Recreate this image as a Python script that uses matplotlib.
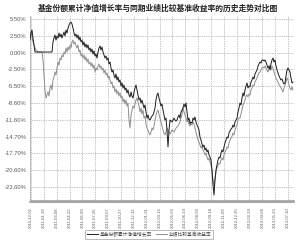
import numpy as np
import matplotlib
matplotlib.use("Agg")
import matplotlib.pyplot as plt
from matplotlib.lines import Line2D

plt.rcParams['font.family'] = ['Liberation Sans', 'Noto Sans CJK SC', 'DejaVu Sans']

title = "基金份额累计净值增长率与同期业绩比较基准收益率的历史走势对比图"
series_names = ["基金份额累计净值增长率", "业绩比较基准收益率"]

fund = [1.86, 3.07, 3.59, 2.21, 1.00,
        -0.22, -0.22, -0.22, -0.22, -0.22, -0.22, -0.22, -0.22, -0.22,
        -0.22, -0.22, -0.22, -0.22, -0.22, -0.22, -0.22, -0.22, -0.22,
        1.52, 2.21, 2.73, 1.86, 2.55, 2.21, 3.07, 2.38, 2.90, 2.21, 2.73, 3.25,
        2.55, 3.59, 3.07, 3.94, 4.46, 4.81, 4.98, 4.63, 3.94, 3.07, 2.55, 2.90,
        2.21, 2.73, 1.86, 2.38, 1.52, 1.86, 1.00, 1.52, 0.65, 1.17, 0.48, 1.00,
        0.13, 0.48, -0.22, 0.30, -0.56, -0.04, -0.91, -0.56, -1.26, -0.22, 0.48,
        0.82, 0.13, 0.65, -0.22, -0.74, -1.26, -0.91, -1.60, -1.26, -2.29, -1.95,
        -2.99, -3.68, -3.33, -4.20, -4.72, -4.02, -5.06, -4.54, -5.41, -5.06,
        -6.10, -5.58, -6.45, -5.93, -6.79, -6.45, -7.31, -6.79, -7.66, -8.01,
        -7.14, -7.84, -8.18, -7.14, -6.45, -5.93, -6.79, -7.66, -8.53, -8.18,
        -9.05, -8.53, -9.22, -9.92, -9.39, -10.61, -11.65, -11.13, -11.82, -11.99,
        -11.65, -11.30, -11.13, -10.61, -9.92, -8.53, -7.66, -7.31, -8.18, -8.88,
        -9.57, -9.22, -10.26, -11.13, -11.99, -11.65, -13.73, -16.67, -13.73,
        -11.99, -12.17, -12.34, -11.99, -11.65, -11.99, -12.17, -11.99, -11.48,
        -11.13, -11.65, -10.61, -10.26, -9.92, -9.22, -9.74, -9.05, -10.61,
        -11.99, -11.65, -12.69, -12.34, -12.51, -11.65, -11.99, -11.48, -12.34,
        -12.86, -13.21, -13.73, -14.94, -15.46, -16.15, -16.67, -16.32, -17.19,
        -16.84, -17.53, -17.19, -18.06, -18.41, -18.92, -20.65, -23.25, -24.98,
        -22.39, -20.65, -19.79, -18.92, -18.41, -18.58, -17.71, -17.19, -17.53,
        -16.67, -15.98, -15.46, -14.94, -15.11, -14.25, -13.90, -13.56, -13.38,
        -12.86, -13.21, -12.34, -11.99, -11.65, -10.61, -9.92, -9.05, -9.39,
        -8.18, -7.31, -7.84, -6.79, -6.10, -5.58, -6.45, -6.10, -6.27, -5.41,
        -5.06, -4.54, -4.89, -4.02, -3.68, -3.33, -2.64, -2.29, -1.95, -2.12,
        -1.60, -1.60, -1.78, -1.60, -1.95, -2.47, -2.99, -2.64, -3.33, -2.29,
        -1.60, -1.26, -1.95, -1.60, -2.64, -3.33, -3.85, -4.37, -4.72, -5.06,
        -4.89, -5.41, -5.75, -5.58, -4.37, -3.33, -2.99, -3.33, -3.68, -4.72,
        -5.58, -5.41]

benchmark = [2.21, 3.07, 2.55, 1.52, 1.00, 0.48, 0.13, -0.04,
             -0.22, -0.22, -0.22, -0.22, -0.22,
             -1.60, -4.20, -6.79, -8.18, -7.66, -7.14, -7.84, -6.45, -5.93, -6.79,
             -5.06, -4.54, -3.68, -4.20, -2.99, -1.95, -2.47, -1.26, -1.60, -0.74,
             -1.08, -0.22, -0.56, 0.48, -0.22, 0.65, 0.13, 1.00, 0.48, 1.52, 1.86,
             1.17, 1.52, 0.82, 0.48, 1.00, -0.22, 0.13, -0.91, -0.56, -1.26, -0.74,
             -1.60, -1.08, -1.95, -1.43, -2.29, -1.95, -2.64, -2.12, -2.99, -2.47,
             -3.68, -2.99, -3.33, -2.64, -2.29, -2.99, -2.64, -3.33, -2.99, -3.85,
             -3.33, -4.20, -3.85, -4.72, -4.37, -5.06, -5.75, -5.41, -6.45, -6.10,
             -7.14, -6.62, -7.49, -6.97, -7.84, -7.31, -8.18, -7.84, -8.88, -8.35,
             -9.22, -8.53, -9.57, -9.05, -11.99, -13.38, -11.13, -10.26, -9.57,
             -9.92, -9.22, -8.53, -8.18, -8.88, -9.57, -10.61, -9.92, -10.96,
             -10.26, -11.65, -11.30, -12.69, -13.38, -13.73, -14.25, -14.59,
             -14.08, -13.38, -13.73, -13.03, -11.99, -11.13, -10.61, -10.26,
             -10.96, -11.65, -12.34, -13.03, -13.73, -14.25, -14.59, -14.08,
             -13.38, -13.73, -14.08, -14.42, -14.08, -13.73, -13.90, -14.08,
             -13.73, -13.38, -13.21, -13.03, -12.69, -12.34, -11.65, -10.96,
             -9.92, -10.61, -11.13, -11.65, -12.34, -11.99, -12.69, -13.03,
             -12.69, -12.86, -12.34, -12.69, -13.38, -14.08, -14.77, -15.46,
             -15.80, -16.32, -16.84, -16.50, -17.19, -17.53, -18.06, -17.71,
             -18.41, -18.92, -18.58, -19.27, -19.79, -21.00, -22.39, -23.43,
             -22.04, -21.00, -20.31, -19.79, -19.44, -19.62, -18.92, -18.58,
             -18.92, -18.06, -17.53, -17.19, -16.67, -16.84, -15.98, -15.46,
             -15.11, -14.77, -14.25, -14.59, -13.73, -13.21, -12.86, -11.99,
             -11.65, -11.65, -10.96, -10.26, -9.39, -9.05, -8.53, -7.84, -7.66,
             -8.01, -7.49, -7.66, -6.79, -6.45, -5.93, -6.10, -5.41, -5.06,
             -4.72, -4.20, -3.85, -3.68, -3.33, -2.99, -2.81, -2.99, -2.64,
             -2.99, -3.33, -3.68, -2.99, -2.47, -3.33, -2.64, -2.99, -3.68,
             -4.20, -4.72, -5.06, -5.41, -5.93, -6.10, -6.45, -6.79, -7.14,
             -6.45, -5.93, -5.41, -4.72, -5.06, -5.93, -6.45, -6.79, -6.27, -6.79]

y_tick_labels = ["5.50%", "2.50%", "0.00%", "-2.50%", "-5.50%", "-8.60%",
                 "-11.60%", "-14.70%", "-17.70%", "-20.60%", "-23.60%"]
x_tick_labels = ["2010-12-02", "2011-01-19", "2011-03-08", "2011-04-22",
                 "2011-06-09", "2011-07-25", "2011-09-07", "2011-10-27",
                 "2011-12-12", "2012-01-31", "2012-03-16", "2012-05-03",
                 "2012-06-19", "2012-08-03", "2012-09-18", "2012-11-09",
                 "2012-12-25", "2013-02-19", "2013-04-08", "2013-05-23",
                 "2013-07-10"]

fig = plt.figure(figsize=(3.0, 2.42), dpi=100)
ax = fig.add_axes([0.1, 1 - 201 / 242, 0.88, 185 / 242])

ax.plot(np.arange(len(benchmark)), benchmark, color="#8e8e8e", lw=0.7, zorder=3)
ax.plot(np.arange(len(fund)), fund, color="#1e1e1e", lw=0.7, zorder=4)

ax.set_xlim(0, 264)
ax.set_ylim(-26.02, 6.02)

yt = np.linspace(5.5, -23.6, len(y_tick_labels))
ax.set_yticks(yt)
ax.set_yticklabels(y_tick_labels)
xt = 1 + 12.85 * np.arange(len(x_tick_labels))
ax.set_xticks(xt)
ax.set_xticklabels(x_tick_labels, rotation=90)

ax.tick_params(axis="y", length=0, pad=2.5, labelsize=4.2, labelcolor="#5a5a5a")
ax.tick_params(axis="x", length=0, pad=4.5, labelsize=3.0, labelcolor="#5a5a5a")

ax.grid(True, color="#8a8a8a", lw=0.5, linestyle=(0, (1, 1.5)))
for s in ["top", "right", "bottom"]:
    ax.spines[s].set_visible(False)
ax.spines["left"].set_color("#b0b0b0")
ax.spines["left"].set_linewidth(0.6)

ax.add_line(Line2D([0, 1], [0.008, 0.008], transform=ax.transAxes,
                   color="#a0a0a0", lw=0.6, clip_on=False))
ax.add_line(Line2D([0, 1], [-0.004, -0.004], transform=ax.transAxes,
                   color="#8a8a8a", lw=1.1, clip_on=False))

fig.text(0.525, 0.967, title, ha="center", va="center", fontsize=5.6,
         fontweight="bold", color="#222222",
         family=["Noto Sans CJK SC", "DejaVu Sans"])

handles = [Line2D([], [], color="#1e1e1e", lw=0.7),
           Line2D([], [], color="#8e8e8e", lw=0.7)]
leg = fig.legend(handles, series_names, loc="center", bbox_to_anchor=(0.498, 0.031),
                 ncol=2, handlelength=2.2, handletextpad=0.4,
                 columnspacing=0.9, borderpad=0.45, frameon=True, fancybox=False,
                 labelcolor="#444444",
                 prop={"family": ["Noto Sans CJK SC", "DejaVu Sans"], "size": 3.4})
leg.get_frame().set_edgecolor("#888888")
leg.get_frame().set_linewidth(0.5)

fig.savefig("out.png", dpi=100)
